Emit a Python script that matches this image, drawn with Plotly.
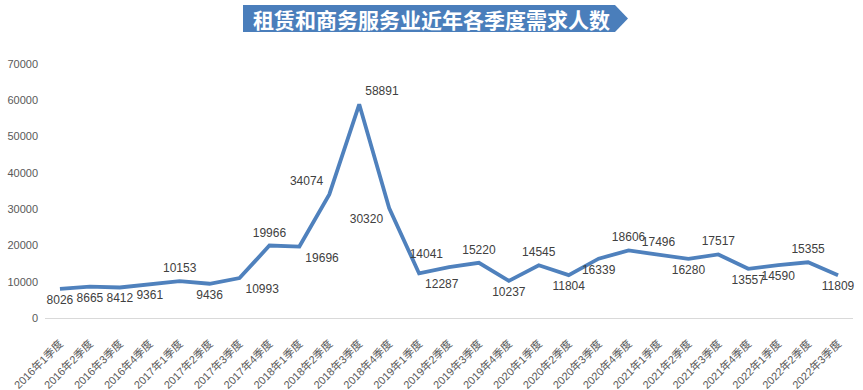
import plotly.graph_objects as go

categories = [f"{y}年{q}季度" for y in range(2016, 2023) for q in range(1, 5)][:27]
values = [8026, 8665, 8412, 9361, 10153, 9436, 10993, 19966, 19696, 34074, 58891, 30320,
          12287, 14041, 15220, 10237, 14545, 11804, 16339, 18606, 17496, 16280, 17517,
          13557, 14590, 15355, 11809]
label_pos = ["bottom center", "bottom center", "bottom center", "bottom center", "top center",
             "bottom center", "bottom right", "top center", "bottom right", "top left",
             "top right", "bottom left", "bottom right", "top left", "top center",
             "bottom center", "top center", "bottom center", "bottom center", "top center",
             "top center", "bottom center", "top center", "bottom center", "bottom center",
             "top center", "bottom center"]
title_text = "租赁和商务服务业近年各季度需求人数"

W, H = 863, 390
L, R, T, B = 45, 10, 64, 72
pw, ph = W - L - R, H - T - B

def px(x):
    return (x - L) / pw

def py(y):
    return (H - B - y) / ph

fig = go.Figure()
fig.add_trace(go.Scatter(
    x=categories, y=values, mode="lines+markers+text",
    line=dict(color="#4f81bd", width=3.8),
    marker=dict(size=8, opacity=0, color="#4f81bd"),
    text=[str(v) for v in values], textposition=label_pos,
    textfont=dict(family="Liberation Sans, Noto Sans CJK SC", size=12, color="#404040"),
    cliponaxis=False, hoverinfo="x+y",
))

path = (f"M {px(243)},{py(5)} L {px(615)},{py(5)} L {px(628)},{py(18.5)} "
        f"L {px(615)},{py(32)} L {px(243)},{py(32)} Z")
fig.add_shape(type="path", xref="paper", yref="paper", path=path,
              fillcolor="#4a7ebb", line=dict(color="#4a7ebb", width=0))
fig.add_annotation(x=px(431), y=py(18.5), xref="paper", yref="paper",
                   text=f"<b>{title_text}</b>", showarrow=False,
                   font=dict(family="Noto Sans CJK SC", size=21, color="white"),
                   xanchor="center", yanchor="middle")

fig.update_layout(
    width=W, height=H, margin=dict(l=L, r=R, t=T, b=B, autoexpand=False),
    paper_bgcolor="white", plot_bgcolor="white", showlegend=False,
    xaxis=dict(type="category", tickangle=-45, showgrid=False, showline=True,
               linecolor="#d9d9d9", linewidth=1, ticks="", automargin=False,
               ticklabelstandoff=14,
               tickfont=dict(family="Liberation Sans, Noto Sans CJK SC", size=11, color="#595959"),
               range=[-0.5, 26.5]),
    yaxis=dict(range=[0, 70000], dtick=10000, tickformat="d", showgrid=False, zeroline=False,
               showline=False, ticks="", automargin=False, ticklabelstandoff=6,
               tickfont=dict(family="Liberation Sans", size=11, color="#595959")),
)
fig.write_html("out.html", config={"displayModeBar": False},
               post_script="document.body.style.margin='0';document.body.style.overflow='hidden';")
